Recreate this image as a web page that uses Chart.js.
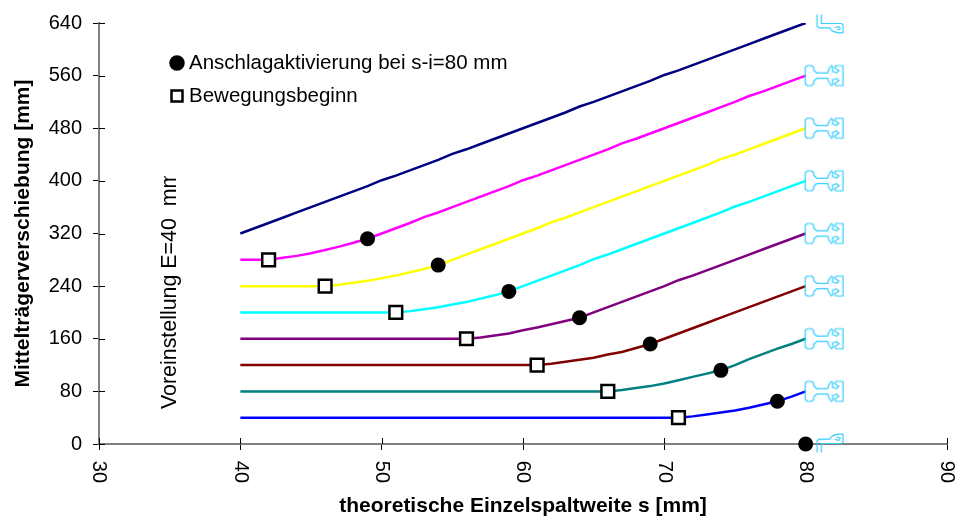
<!DOCTYPE html>
<html>
<head>
<meta charset="utf-8">
<title>Mittelträgerverschiebung</title>
<script src="https://cdn.jsdelivr.net/npm/chart.js@4"></script>
<style>
  body { margin: 0; background: #fff; }
  canvas { display: block; }
</style>
</head>
<body>
<canvas id="chart" width="955" height="517"></canvas>
<script>
// Data
const spalt = [40,41,42,43,44,45,46,47,48,49,50,51,52,53,54,55,56,57,58,59,60,61,62,63,64,65,66,67,68,69,70,71,72,73,74,75,76,77,78,79,80];

const e320 = [320,328,336,344,352,360,368,376,384,392,401,408,416,424,432,441,448,456,464,472,480,488,496,504,513,520,528,536,544,552,561,568,576,584,592,600,608,616,624,632,640];
const e280 = [280,280,280,283,286,290,295,300,306,312,320,328,336,345,352,360,368,376,384,392,401,408,416,424,432,440,448,457,464,472,480,488,496,504,512,520,529,536,544,552,560];
const e240 = [240,240,240,240,240,240,240,242,245,248,252,256,261,266,272,280,288,296,304,312,320,328,337,344,352,360,368,376,384,392,400,408,416,424,433,440,448,456,464,472,480];
const e200 = [200,200,200,200,200,200,200,200,200,200,200,200,202,205,208,212,216,221,226,232,240,248,256,264,272,281,288,296,304,312,320,328,336,344,352,361,368,376,384,392,400];
const e160 = [160,160,160,160,160,160,160,160,160,160,160,160,160,160,160,160,160,162,165,168,173,177,182,187,192,200,208,216,224,232,240,249,256,264,272,280,288,296,304,312,320];
const e120 = [120,120,120,120,120,120,120,120,120,120,120,120,120,120,120,120,120,120,120,120,120,120,122,125,128,131,136,140,146,152,160,168,176,184,192,200,208,216,224,232,240];
const e80 = [80,80,80,80,80,80,80,80,80,80,80,80,80,80,80,80,80,80,80,80,80,80,80,80,80,80,80,82,85,88,92,97,102,107,112,120,129,137,145,152,160];
const e40 = [40,40,40,40,40,40,40,40,40,40,40,40,40,40,40,40,40,40,40,40,40,40,40,40,40,40,40,40,40,40,40,40,42,45,48,51,55,60,65,72,80];

const anschlagX = [80,78,74,69,64,59,54,49];
const anschlagY = [0,65,112,152,192,232,272,312];
const beginnX = [71,66,61,56,51,46,42];
const beginnY = [40,80,120,160,200,240,280];
const profilY = [0,80,160,240,320,400,480,560,640];

const xTicks = [30,40,50,60,70,80,90];
const yTicks = [0,80,160,240,320,400,480,560,640];

const fontName = '"Liberation Sans", Arial, sans-serif';
const profilColor = '#33CCFF';

function toPoints(xs, ys) {
  return xs.map((x, i) => ({ x: x, y: ys[i] }));
}

function curve(values, color) {
  return {
    label: 'E' + values[0],
    data: toPoints(spalt, values),
    showLine: true,
    borderColor: color,
    borderWidth: 2.5,
    pointRadius: 0,
    tension: 0,
    order: 3,
  };
}

// Profile outlines, the point sits in the middle of the canvas so the shape starts at the line end
function profilCanvas(draw) {
  const c = document.createElement('canvas');
  c.width = 84;
  c.height = 40;
  const g = c.getContext('2d');
  g.translate(42, 20);
  g.strokeStyle = profilColor;
  g.lineWidth = 1.2;
  g.lineJoin = 'round';
  draw(g);
  return c;
}

const halfOutline = [[-0.5,0],[-0.5,-8],[1.5,-10],[6,-10],[8,-8],[8,-5.5],[11,-2.7],[22,-2.7],[23.3,-6.7],[25.7,-10],[27.3,-8.3],[26.7,-4.3],[30.7,-2.7],[33.3,-5],[29,-7.7],[30,-10],[37.3,-10],[37.3,0]];
const cutOutline = [[11.3,-8.5],[11.3,3.2],[13.3,4.8],[24,4.8],[26.7,8.2],[32.3,9.8],[37.3,9.8],[37.3,1.5],[35.5,0.5],[15.7,0.5],[15.7,-8.5]];
const cutHook = [[29,4.8],[33,3.5],[34.5,6],[31,7]];

function tracePath(g, pts, flip) {
  g.beginPath();
  pts.forEach((p, i) => {
    if (i === 0) g.moveTo(p[0], p[1] * flip);
    else g.lineTo(p[0], p[1] * flip);
  });
  g.stroke();
}

const fullProfil = profilCanvas(g => {
  tracePath(g, halfOutline, 1);
  tracePath(g, halfOutline, -1);
});
const topProfil = profilCanvas(g => {
  tracePath(g, cutOutline, 1);
  tracePath(g, cutHook, 1);
});
const bottomProfil = profilCanvas(g => {
  tracePath(g, cutOutline, -1);
  tracePath(g, cutHook, -1);
});

// Ticks cross the axes in the original, the library only draws the outer half
const crossTicks = {
  id: 'crossTicks',
  afterDatasetsDraw(chart) {
    const { ctx, scales: { x, y } } = chart;
    ctx.save();
    ctx.strokeStyle = '#000';
    ctx.lineWidth = 1;
    ctx.beginPath();
    xTicks.forEach(v => {
      const px = Math.round(x.getPixelForValue(v)) + 0.5;
      ctx.moveTo(px, y.bottom);
      ctx.lineTo(px, y.bottom - 6);
    });
    yTicks.forEach(v => {
      const py = Math.round(y.getPixelForValue(v)) + 0.5;
      ctx.moveTo(x.left, py);
      ctx.lineTo(x.left + 6, py);
    });
    ctx.stroke();
    ctx.restore();
  },
};

// Side note inside the plot, its last letter is cut off in the original
const voreinstellung = {
  id: 'voreinstellung',
  afterDraw(chart) {
    const { ctx } = chart;
    ctx.save();
    ctx.beginPath();
    ctx.rect(140, 176, 60, 240);
    ctx.clip();
    ctx.translate(176, 409);
    ctx.rotate(-Math.PI / 2);
    ctx.font = '21.4px ' + fontName;
    ctx.fillStyle = '#000';
    ctx.fillText('Voreinstellung E=40  mm', 0, 0);
    ctx.restore();
  },
};

const moveLegend = {
  id: 'moveLegend',
  afterLayout(chart) {
    chart.legend.left = 162.75;
    chart.legend.top = 40.25;
  },
};

new Chart(document.getElementById('chart'), {
  type: 'scatter',
  data: {
    datasets: [
      {
        label: 'Anschlagaktivierung bei s-i=80 mm',
        data: toPoints(anschlagX, anschlagY),
        pointStyle: 'circle',
        pointRadius: 7.5,
        backgroundColor: '#000',
        borderColor: '#000',
        borderWidth: 0,
        clip: false,
        order: 0,
      },
      {
        label: 'Bewegungsbeginn',
        data: toPoints(beginnX, beginnY),
        pointStyle: 'rect',
        pointRadius: 9,
        backgroundColor: '#fff',
        borderColor: '#000',
        borderWidth: 2.5,
        clip: false,
        order: 1,
      },
      {
        label: 'Profil',
        data: toPoints(profilY.map(() => 80), profilY),
        pointStyle: profilY.map((v, i) => i === 0 ? bottomProfil : i === profilY.length - 1 ? topProfil : fullProfil),
        pointRadius: 1,
        clip: false,
        order: 2,
      },
      curve(e320, '#000080'),
      curve(e280, '#FF00FF'),
      curve(e240, '#FFFF00'),
      curve(e200, '#00FFFF'),
      curve(e160, '#800080'),
      curve(e120, '#800000'),
      curve(e80, '#008080'),
      curve(e40, '#0000FF'),
    ],
  },
  options: {
    responsive: false,
    animation: false,
    layout: { autoPadding: false, padding: { top: 23, right: 8, left: 0, bottom: 0 } },
    plugins: {
      tooltip: { enabled: false },
      legend: {
        position: 'chartArea',
        align: 'start',
        labels: {
          usePointStyle: true,
          boxHeight: 11,
          boxWidth: 3.5,
          padding: 12.5,
          color: '#000',
          font: { family: fontName, size: 20.5 },
          filter: item => item.datasetIndex < 2,
        },
      },
    },
    scales: {
      x: {
        type: 'linear',
        min: 30,
        max: 90,
        afterBuildTicks: scale => { scale.ticks = xTicks.map(v => ({ value: v })); },
        afterFit: scale => { scale.height = 73; scale.paddingLeft = 0; scale.paddingRight = 0; },
        grid: { drawOnChartArea: false, color: '#000', tickLength: 6 },
        border: { color: '#808080', width: 2 },
        ticks: { minRotation: -90, maxRotation: -90, padding: 33, color: '#000', font: { family: fontName, size: 20 } },
        title: { display: true, text: 'theoretische Einzelspaltweite s [mm]', color: '#000', padding: { top: 0, bottom: -1.5 }, font: { family: fontName, size: 21, weight: 'bold' } },
      },
      y: {
        min: 0,
        max: 640,
        afterBuildTicks: scale => { scale.ticks = yTicks.map(v => ({ value: v })); },
        afterFit: scale => { scale.width = 99; },
        grid: { drawOnChartArea: false, color: '#000', tickLength: 6 },
        border: { color: '#808080', width: 2 },
        ticks: { padding: 11, color: '#000', font: { family: fontName, size: 20 } },
        title: { display: true, text: 'Mittelträgerverschiebung [mm]', color: '#000', padding: { top: 11, bottom: 0 }, font: { family: fontName, size: 21, weight: 'bold' } },
      },
    },
  },
  plugins: [crossTicks, voreinstellung, moveLegend],
});
</script>
</body>
</html>
